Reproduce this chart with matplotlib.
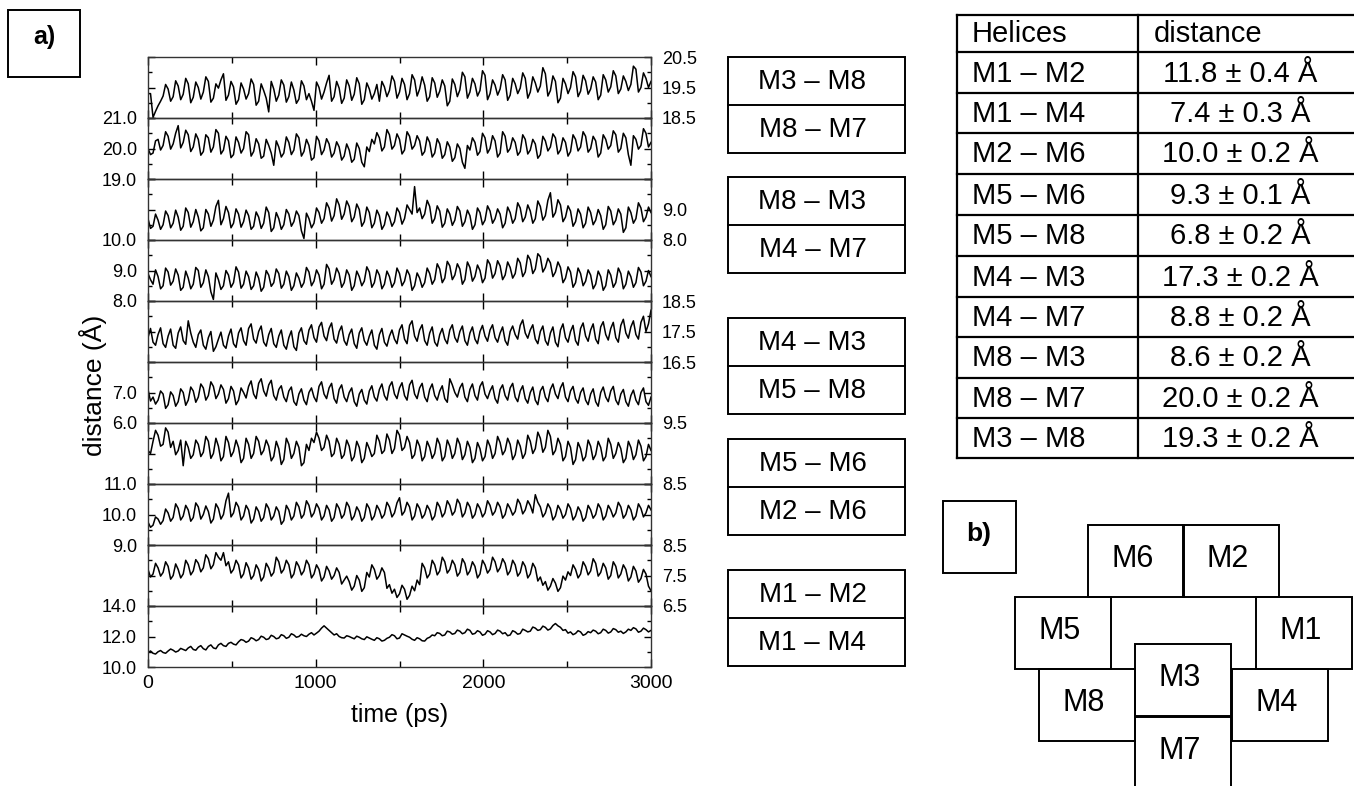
import matplotlib.pyplot as plt
import matplotlib.patches as patches
import numpy as np

# Figure size in pixels (dpi 100)
W, H = 1354, 786
DPI = 100

plt.rcParams['font.family'] = ['Liberation Sans', 'DejaVu Sans']

# ---------------- data ----------------
time_ps = np.arange(0, 3001, 15)

# panel order, top to bottom (labels as in the boxes)
panel_labels = ["M3 – M8", "M8 – M7", "M8 – M3", "M4 – M7", "M4 – M3",
                "M5 – M8", "M5 – M6", "M2 – M6", "M1 – M2", "M1 – M4"]

m3_m8 = [19.30, 19.30, 18.52, 18.72, 18.90, 19.05, 19.22, 19.60, 19.45, 19.05, 19.20, 19.72, 19.55, 19.10, 19.28, 19.80, 19.62, 19.00, 19.18, 19.68,
         19.50, 19.12, 19.35, 19.85, 19.70, 19.02, 19.15, 19.62, 19.48, 19.75, 19.95, 19.08, 19.25, 19.70, 19.52, 18.95, 19.10, 19.65, 19.45, 19.12,
         19.30, 19.78, 19.60, 18.92, 19.05, 19.62, 19.40, 19.15, 18.70, 19.70, 19.45, 19.05, 19.25, 19.75, 19.58, 19.02, 19.20, 19.68, 19.42, 18.98,
         19.12, 19.72, 19.55, 19.10, 19.30, 19.05, 18.75, 19.68, 19.50, 19.12, 19.35, 19.65, 19.90, 19.05, 19.20, 19.70, 19.48, 18.98, 19.15, 19.75,
         19.55, 19.08, 19.28, 19.82, 19.62, 18.95, 19.10, 19.65, 19.45, 19.12, 19.30, 19.60, 19.05, 19.70, 19.52, 19.20, 19.40, 19.88, 19.70, 19.15,
         19.35, 19.80, 19.60, 19.10, 19.30, 19.92, 19.75, 19.22, 19.45, 19.85, 19.58, 19.05, 19.20, 19.82, 19.65, 19.18, 19.38, 19.75, 19.55, 18.90,
         19.05, 19.78, 19.60, 19.20, 19.42, 20.00, 19.85, 19.15, 19.35, 19.80, 19.62, 19.22, 19.40, 20.05, 19.90, 19.10, 19.30, 19.75, 19.58, 19.25,
         19.45, 19.92, 19.75, 19.08, 19.25, 19.80, 19.62, 19.30, 19.48, 19.98, 19.80, 19.15, 19.35, 19.85, 19.65, 19.35, 19.55, 20.15, 19.95, 19.22,
         19.40, 19.88, 19.70, 19.00, 19.15, 19.80, 19.62, 19.30, 19.50, 20.02, 19.85, 19.20, 19.38, 19.90, 19.72, 19.28, 19.45, 19.85, 19.68, 19.10,
         19.25, 19.92, 19.75, 19.35, 19.52, 20.05, 19.88, 19.30, 19.45, 19.88, 19.70, 19.40, 19.60, 20.20, 20.10, 19.35, 19.50, 19.98, 19.80, 19.50,
         19.70]
m8_m7 = [20.00, 19.80, 19.85, 20.25, 20.30, 19.95, 20.10, 20.55, 20.40, 19.98, 20.15, 20.50, 20.75, 20.02, 20.20, 20.60, 20.45, 19.90, 20.05, 20.48,
         20.30, 19.78, 19.90, 20.45, 20.35, 19.88, 20.05, 20.62, 20.50, 19.82, 19.95, 20.40, 20.25, 19.70, 19.80, 20.38, 20.20, 19.85, 20.00, 20.55,
         20.45, 19.75, 19.90, 20.32, 20.15, 19.68, 19.75, 20.30, 20.10, 19.85, 19.45, 20.25, 20.05, 19.72, 19.85, 20.38, 20.20, 19.80, 19.95, 20.48,
         20.35, 19.75, 19.90, 20.30, 20.10, 19.62, 19.70, 20.40, 20.25, 19.80, 19.95, 20.32, 20.15, 19.72, 19.85, 20.22, 20.05, 19.62, 19.75, 20.15,
         19.95, 19.55, 19.65, 20.18, 20.00, 19.55, 19.40, 20.05, 19.90, 20.30, 20.15, 20.52, 20.35, 19.92, 20.05, 20.62, 20.45, 19.98, 20.10, 20.48,
         20.30, 19.82, 19.95, 20.55, 20.40, 19.98, 20.10, 20.42, 20.25, 19.78, 19.90, 20.38, 20.20, 19.72, 19.85, 20.32, 20.15, 19.68, 19.80, 20.22,
         20.05, 19.58, 19.70, 20.15, 20.00, 19.55, 19.35, 20.10, 19.95, 20.35, 20.20, 19.78, 19.90, 20.50, 20.35, 19.85, 20.00, 20.42, 20.25, 19.72,
         19.85, 20.55, 20.40, 19.88, 20.00, 20.35, 20.20, 19.78, 19.90, 20.45, 20.30, 19.82, 19.95, 20.30, 20.15, 19.68, 19.80, 20.40, 20.25, 19.92,
         20.05, 20.48, 20.35, 19.82, 19.95, 20.35, 20.20, 19.75, 19.90, 20.45, 20.30, 19.92, 20.05, 20.55, 20.40, 19.88, 20.00, 20.40, 20.25, 19.72,
         19.85, 20.45, 20.30, 19.98, 20.10, 20.58, 20.45, 19.88, 20.00, 20.50, 20.35, 19.80, 19.45, 20.42, 20.30, 19.98, 20.10, 20.65, 20.50, 20.05,
         20.20]
m8_m3 = [8.70, 8.38, 8.45, 8.85, 8.65, 8.35, 8.50, 8.95, 8.80, 8.40, 8.55, 8.98, 8.75, 8.32, 8.45, 9.05, 8.90, 8.42, 8.60, 9.00,
         8.75, 8.30, 8.40, 9.00, 8.85, 8.45, 8.65, 9.10, 9.30, 8.50, 8.70, 9.10, 8.90, 8.40, 8.55, 9.02, 8.85, 8.42, 8.60, 8.98,
         8.80, 8.35, 8.45, 8.92, 8.75, 8.38, 8.55, 9.08, 8.90, 8.28, 8.40, 8.90, 8.70, 8.35, 8.50, 9.00, 8.85, 8.45, 8.60, 8.95,
         8.80, 8.30, 8.05, 8.88, 8.70, 8.40, 8.55, 9.05, 8.90, 8.55, 8.70, 9.22, 9.05, 8.62, 8.80, 9.35, 9.15, 8.68, 8.85, 9.28,
         9.10, 8.60, 8.75, 9.18, 9.00, 8.45, 8.60, 9.08, 8.90, 8.40, 8.55, 8.98, 8.80, 8.35, 8.50, 8.92, 8.75, 8.45, 8.60, 9.05,
         8.90, 8.52, 8.70, 9.15, 9.00, 8.85, 9.75, 8.90, 9.05, 8.70, 8.85, 9.30, 9.10, 8.55, 8.70, 9.12, 8.95, 8.42, 8.55, 9.02,
         8.85, 8.48, 8.65, 9.10, 8.95, 8.45, 8.60, 8.98, 8.80, 8.35, 8.50, 9.05, 8.90, 8.50, 8.65, 9.12, 8.95, 8.55, 8.70, 9.02,
         8.85, 8.40, 8.55, 9.08, 8.90, 8.55, 8.70, 9.22, 9.05, 8.60, 8.75, 9.15, 8.95, 8.55, 8.70, 9.28, 9.10, 8.65, 8.80, 9.30,
         9.55, 8.75, 8.90, 9.32, 9.15, 8.60, 8.75, 9.12, 8.95, 8.45, 8.60, 9.02, 8.85, 8.40, 8.55, 9.08, 8.90, 8.50, 8.65, 9.00,
         8.80, 8.35, 8.50, 9.10, 8.95, 8.50, 8.65, 9.02, 8.85, 8.25, 8.40, 9.08, 8.90, 8.55, 8.70, 9.22, 9.05, 8.60, 8.75, 9.08,
         8.90]
m4_m7 = [8.90, 8.70, 8.55, 9.02, 8.80, 8.40, 8.50, 9.08, 8.95, 8.52, 8.65, 9.05, 8.85, 8.35, 8.45, 8.98, 8.75, 8.40, 8.55, 9.10,
         9.00, 8.45, 8.60, 9.02, 8.80, 8.30, 8.05, 8.92, 8.70, 8.38, 8.50, 9.00, 8.85, 8.45, 8.60, 9.12, 8.95, 8.42, 8.55, 8.98,
         8.80, 8.38, 8.50, 8.95, 8.75, 8.32, 8.45, 9.00, 8.85, 8.48, 8.60, 9.05, 8.90, 8.42, 8.55, 8.98, 8.80, 8.35, 8.50, 8.92,
         8.75, 8.45, 8.60, 9.10, 8.95, 8.50, 8.65, 9.02, 8.85, 8.40, 8.55, 9.20, 9.05, 8.55, 8.70, 9.08, 8.90, 8.45, 8.60, 9.02,
         8.85, 8.35, 8.50, 8.98, 8.80, 8.50, 8.65, 9.12, 8.95, 8.45, 8.60, 9.02, 8.85, 8.40, 8.55, 8.98, 8.80, 8.45, 8.60, 9.08,
         8.90, 8.50, 8.65, 9.02, 8.85, 8.35, 8.50, 8.92, 8.75, 8.45, 8.60, 9.08, 8.90, 8.55, 8.70, 9.22, 9.05, 8.60, 8.75, 9.30,
         9.15, 8.70, 8.85, 9.22, 9.05, 8.55, 8.70, 9.28, 9.10, 8.65, 8.80, 9.18, 9.00, 8.60, 8.75, 9.35, 9.20, 8.75, 8.90, 9.32,
         9.15, 8.70, 8.85, 9.28, 9.10, 8.75, 8.90, 9.40, 9.25, 8.80, 8.95, 9.50, 9.35, 8.90, 9.05, 9.55, 9.45, 8.95, 9.10, 9.40,
         9.25, 8.80, 8.95, 9.28, 9.10, 8.60, 8.75, 9.12, 8.95, 8.45, 8.60, 9.08, 8.90, 8.50, 8.65, 9.02, 8.85, 8.40, 8.55, 8.98,
         8.80, 8.35, 8.50, 9.02, 8.85, 8.45, 8.60, 9.08, 8.90, 8.40, 8.55, 8.98, 8.80, 8.45, 8.60, 9.10, 8.95, 8.50, 8.65, 9.00,
         8.80]
m4_m3 = [17.30, 17.60, 17.15, 17.05, 17.40, 17.62, 17.10, 16.98, 17.35, 17.58, 17.05, 16.95, 17.45, 17.65, 17.20, 17.08, 17.85, 17.45, 17.15, 16.98,
         17.40, 17.55, 17.05, 16.92, 17.30, 17.50, 16.85, 17.00, 17.25, 17.48, 17.05, 16.95, 17.35, 17.58, 17.10, 16.98, 17.45, 17.62, 17.20, 17.05,
         17.60, 17.75, 17.25, 17.12, 17.50, 17.68, 17.15, 17.02, 17.40, 17.60, 17.10, 16.98, 17.35, 17.55, 17.05, 16.92, 17.30, 17.52, 17.00, 16.88,
         17.45, 17.62, 17.20, 17.08, 17.55, 17.72, 17.30, 17.15, 17.65, 17.80, 17.35, 17.20, 17.60, 17.78, 17.25, 17.12, 17.50, 17.68, 17.20, 17.05,
         17.40, 17.58, 17.10, 16.95, 17.45, 17.62, 17.20, 17.05, 17.35, 17.55, 17.05, 16.92, 17.40, 17.60, 17.15, 17.02, 17.35, 17.55, 17.25, 17.10,
         17.55, 17.72, 17.25, 17.10, 17.70, 17.85, 17.35, 17.18, 17.55, 17.72, 17.20, 17.05, 17.45, 17.65, 17.15, 17.02, 17.40, 17.60, 17.25, 17.10,
         17.55, 17.72, 17.30, 17.15, 17.50, 17.68, 17.20, 17.05, 17.45, 17.65, 17.25, 17.10, 17.50, 17.70, 17.35, 17.18, 17.55, 17.72, 17.30, 17.15,
         17.45, 17.65, 17.20, 17.05, 17.50, 17.68, 17.40, 17.25, 17.70, 17.88, 17.45, 17.28, 17.55, 17.72, 17.25, 17.10, 17.50, 17.68, 17.20, 17.05,
         17.45, 17.65, 17.15, 17.00, 17.55, 17.75, 17.30, 17.15, 17.50, 17.70, 17.20, 17.05, 17.60, 17.78, 17.35, 17.18, 17.55, 17.75, 17.25, 17.10,
         17.65, 17.82, 17.40, 17.22, 17.60, 17.80, 17.30, 17.15, 17.70, 17.90, 17.45, 17.28, 17.65, 17.85, 17.40, 17.25, 17.80, 18.00, 17.50, 17.75,
         18.20]
m5_m8 = [7.10, 6.72, 6.85, 6.62, 6.75, 7.05, 6.95, 6.48, 6.60, 7.02, 6.90, 6.55, 6.70, 7.12, 7.00, 6.58, 6.75, 7.18, 7.05, 6.68,
         6.85, 7.28, 7.15, 6.75, 6.90, 7.35, 7.20, 6.80, 6.95, 7.25, 7.10, 6.65, 6.80, 7.20, 7.05, 6.60, 6.75, 7.15, 7.00, 6.82,
         7.20, 7.38, 6.95, 6.80, 7.30, 7.45, 7.05, 6.88, 7.25, 7.40, 6.90, 6.75, 7.10, 7.22, 6.85, 6.70, 7.05, 7.18, 6.70, 6.58,
         6.95, 7.12, 6.75, 6.60, 7.00, 7.15, 6.85, 6.70, 7.20, 7.35, 6.95, 6.80, 7.15, 7.30, 6.80, 6.65, 7.10, 7.25, 6.85, 6.70,
         7.00, 7.15, 6.70, 6.55, 6.95, 7.10, 6.75, 6.62, 7.05, 7.22, 6.85, 6.72, 7.10, 7.28, 6.90, 6.75, 7.20, 7.35, 6.95, 6.80,
         7.15, 7.32, 6.90, 6.75, 7.25, 7.40, 6.95, 6.80, 7.15, 7.30, 6.85, 6.70, 7.10, 7.28, 6.90, 6.75, 7.05, 7.22, 6.80, 6.68,
         7.45, 7.25, 7.00, 6.85, 7.15, 7.30, 6.85, 6.70, 7.10, 7.28, 6.90, 6.75, 7.20, 7.35, 6.95, 6.80, 7.05, 7.22, 6.80, 6.65,
         7.10, 7.25, 6.90, 6.75, 7.15, 7.30, 6.85, 6.70, 7.05, 7.22, 6.80, 6.65, 7.00, 7.18, 6.75, 6.60, 7.05, 7.20, 6.85, 6.70,
         7.10, 7.28, 6.95, 6.80, 7.15, 7.32, 6.85, 6.70, 7.05, 7.20, 6.80, 6.65, 7.00, 7.15, 6.75, 6.60, 6.95, 7.12, 6.70, 6.55,
         7.00, 7.18, 6.85, 6.70, 7.05, 7.20, 6.75, 6.60, 6.95, 7.10, 6.70, 6.55, 6.90, 7.08, 6.75, 6.60, 7.00, 7.15, 6.70, 6.58,
         6.85]
m5_m6 = [9.05, 9.00, 9.20, 9.38, 9.30, 9.12, 9.15, 9.42, 9.35, 9.10, 9.20, 8.98, 9.05, 9.22, 8.80, 9.20, 9.10, 8.92, 8.98, 9.22,
         9.15, 8.95, 9.02, 9.28, 9.20, 8.92, 9.00, 9.25, 9.12, 8.88, 8.95, 9.28, 9.18, 8.95, 9.03, 9.22, 9.10, 8.85, 8.92, 9.25,
         9.15, 8.92, 9.00, 9.28, 9.20, 8.98, 9.05, 9.22, 9.12, 8.88, 8.95, 9.20, 9.08, 8.82, 8.90, 9.25, 9.15, 8.92, 9.00, 9.20,
         9.10, 8.80, 8.85, 9.15, 9.05, 9.25, 9.18, 9.35, 9.25, 9.05, 9.10, 9.30, 9.20, 8.95, 9.00, 9.25, 9.15, 8.92, 8.98, 9.22,
         9.12, 8.88, 8.95, 9.20, 9.10, 8.85, 8.92, 9.18, 9.08, 8.95, 9.00, 9.30, 9.20, 9.00, 9.05, 9.32, 9.22, 9.00, 9.08, 9.38,
         9.30, 9.05, 9.10, 9.28, 9.18, 8.92, 8.98, 9.22, 9.12, 8.88, 8.95, 9.20, 9.10, 8.92, 9.00, 9.25, 9.15, 8.88, 8.95, 9.22,
         9.12, 8.92, 9.00, 9.25, 9.15, 8.90, 8.98, 9.20, 9.10, 8.85, 8.92, 9.18, 9.08, 8.88, 8.95, 9.22, 9.12, 8.92, 9.00, 9.28,
         9.18, 8.98, 9.05, 9.25, 9.15, 8.90, 8.98, 9.22, 9.12, 8.92, 9.00, 9.30, 9.20, 9.00, 9.08, 9.35, 9.25, 9.02, 9.10, 9.38,
         9.28, 8.98, 9.05, 9.25, 9.15, 8.88, 8.95, 9.20, 9.10, 8.82, 8.90, 9.18, 9.08, 8.88, 8.95, 9.22, 9.12, 8.90, 8.98, 9.20,
         9.10, 8.88, 8.95, 9.25, 9.15, 8.92, 9.00, 9.18, 9.08, 8.85, 8.92, 9.20, 9.10, 8.90, 8.98, 9.22, 9.12, 8.88, 8.95, 9.15,
         9.05]
m2_m6 = [9.75, 9.58, 9.65, 9.92, 9.85, 9.68, 9.80, 10.18, 10.05, 9.78, 9.90, 10.35, 10.20, 9.82, 9.95, 10.30, 10.15, 9.78, 9.90, 10.38,
         10.25, 9.85, 10.00, 10.28, 10.10, 9.72, 9.85, 10.35, 10.20, 9.85, 10.00, 10.45, 10.70, 9.92, 10.05, 10.40, 10.25, 9.82, 9.95, 10.30,
         10.15, 9.72, 9.85, 10.25, 10.10, 9.78, 9.90, 10.35, 10.20, 9.82, 9.95, 10.25, 10.10, 9.68, 9.80, 10.30, 10.15, 9.82, 9.95, 10.40,
         10.25, 9.88, 10.00, 10.45, 10.30, 9.92, 10.05, 10.35, 10.20, 9.82, 9.95, 10.30, 10.15, 9.78, 9.90, 10.35, 10.20, 9.88, 10.00, 10.40,
         10.25, 9.82, 9.95, 10.25, 10.10, 9.78, 9.90, 10.35, 10.20, 9.82, 9.95, 10.30, 10.15, 9.88, 10.00, 10.40, 10.25, 9.92, 10.05, 10.38,
         10.55, 9.98, 10.10, 10.40, 10.25, 9.82, 9.95, 10.35, 10.20, 9.88, 10.00, 10.30, 10.15, 9.82, 9.95, 10.40, 10.25, 9.92, 10.05, 10.45,
         10.30, 9.98, 10.10, 10.50, 10.35, 9.92, 10.05, 10.40, 10.25, 9.88, 10.00, 10.35, 10.20, 9.92, 10.05, 10.45, 10.30, 9.98, 10.10, 10.40,
         10.25, 9.88, 10.00, 10.35, 10.20, 9.98, 10.10, 10.50, 10.35, 10.02, 10.15, 10.45, 10.30, 10.05, 10.65, 10.40, 10.25, 9.92, 10.05, 10.35,
         10.20, 9.82, 9.95, 10.30, 10.15, 9.88, 10.00, 10.35, 10.20, 9.82, 9.95, 10.25, 10.10, 9.78, 9.90, 10.30, 10.15, 9.88, 10.00, 10.35,
         10.20, 9.82, 9.95, 10.30, 10.15, 9.92, 10.05, 10.40, 10.25, 9.88, 10.00, 10.30, 10.15, 9.82, 9.95, 10.35, 10.20, 9.92, 10.05, 10.30,
         10.15]
m1_m2 = [7.70, 7.45, 7.55, 7.90, 7.75, 7.48, 7.60, 7.95, 7.80, 7.38, 7.50, 7.88, 7.70, 7.42, 7.55, 8.00, 7.85, 7.52, 7.65, 8.02,
         7.90, 7.62, 7.75, 8.18, 8.05, 7.72, 7.85, 8.25, 8.10, 8.00, 8.25, 7.82, 7.95, 7.58, 7.70, 8.00, 7.85, 7.42, 7.55, 7.92,
         7.75, 7.38, 7.50, 7.85, 7.70, 7.32, 7.45, 7.90, 7.75, 7.48, 7.60, 8.10, 7.95, 7.58, 7.70, 8.00, 7.85, 7.42, 7.55, 7.95,
         7.80, 7.52, 7.65, 8.00, 7.85, 7.42, 7.55, 7.85, 7.70, 7.32, 7.45, 7.80, 7.65, 7.38, 7.50, 7.75, 7.60, 7.22, 7.35, 7.48,
         7.30, 7.02, 7.15, 7.50, 7.35, 6.98, 7.10, 7.60, 7.45, 7.85, 7.70, 7.38, 7.50, 7.75, 7.60, 7.08, 7.20, 6.92, 7.05, 6.78,
         6.90, 7.18, 7.05, 6.72, 6.85, 7.15, 7.00, 7.35, 7.20, 7.90, 7.75, 7.42, 7.55, 8.00, 7.85, 7.52, 7.65, 8.10, 7.95, 7.58,
         7.70, 8.00, 7.85, 7.48, 7.60, 8.05, 7.90, 7.52, 7.65, 7.95, 7.80, 7.42, 7.55, 8.00, 7.85, 7.58, 7.70, 8.10, 7.95, 7.62,
         7.75, 8.05, 7.90, 7.52, 7.65, 8.00, 7.85, 7.48, 7.60, 7.95, 7.80, 7.42, 7.55, 7.90, 7.75, 7.32, 7.45, 7.18, 7.30, 7.02,
         7.15, 7.40, 7.25, 6.98, 7.10, 7.48, 7.35, 7.62, 7.50, 7.85, 7.70, 7.42, 7.55, 7.95, 7.80, 7.52, 7.65, 8.05, 7.90, 7.48,
         7.60, 7.90, 7.75, 7.38, 7.50, 7.95, 7.80, 7.42, 7.55, 7.85, 7.70, 7.32, 7.45, 7.80, 7.65, 7.28, 7.40, 7.70, 7.55, 7.15,
         7.00]
m1_m4 = [10.95, 11.05, 10.90, 10.85, 11.00, 11.08, 10.95, 10.90, 11.05, 11.18, 11.10, 10.98, 11.05, 11.22, 11.15, 11.08, 11.25, 11.35, 11.15, 11.10,
         11.30, 11.40, 11.20, 11.12, 11.35, 11.45, 11.25, 11.20, 11.45, 11.55, 11.40, 11.35, 11.55, 11.62, 11.50, 11.45, 11.65, 11.80, 11.75, 11.62,
         11.70, 11.92, 11.85, 11.72, 11.80, 12.02, 11.95, 11.80, 11.85, 12.08, 12.00, 11.85, 11.90, 12.12, 12.05, 11.88, 11.95, 12.18, 12.10, 11.95,
         12.00, 12.15, 12.05, 12.00, 12.15, 12.25, 12.10, 12.22, 12.35, 12.55, 12.70, 12.55, 12.40, 12.25, 12.10, 12.18, 12.00, 11.92, 11.90, 12.05,
         12.00, 11.92, 11.85, 12.02, 11.95, 11.85, 11.80, 11.98, 11.90, 11.82, 11.75, 11.92, 11.85, 11.70, 11.75, 11.88, 11.95, 12.12, 12.05, 11.85,
         11.90, 12.18, 12.10, 12.02, 11.95, 11.82, 11.75, 11.92, 11.85, 11.72, 11.70, 11.88, 11.95, 12.10, 12.05, 12.25, 12.20, 12.05, 12.10, 12.35,
         12.30, 12.15, 12.20, 12.42, 12.35, 12.18, 12.25, 12.48, 12.40, 12.15, 12.20, 12.38, 12.30, 12.08, 12.15, 12.38, 12.30, 12.12, 12.20, 12.42,
         12.35, 12.18, 12.25, 12.05, 12.10, 12.38, 12.30, 12.15, 12.20, 12.48, 12.40, 12.30, 12.35, 12.62, 12.55, 12.40, 12.45, 12.68, 12.60, 12.42,
         12.50, 12.72, 12.85, 12.70, 12.60, 12.40, 12.45, 12.22, 12.30, 12.12, 12.20, 12.38, 12.30, 12.08, 12.15, 12.32, 12.25, 12.42, 12.35, 12.18,
         12.25, 12.48, 12.40, 12.22, 12.30, 12.52, 12.45, 12.28, 12.35, 12.20, 12.30, 12.48, 12.40, 12.58, 12.50, 12.28, 12.35, 12.55, 12.45, 12.30,
         12.40]

traces = [m3_m8, m8_m7, m8_m3, m4_m7, m4_m3, m5_m8, m5_m6, m2_m6, m1_m2, m1_m4]

# y range of every panel and the tick labels that are printed
y_ranges = [(18.5, 20.5), (19.0, 21.0), (8.0, 10.0), (8.0, 10.0), (16.5, 18.5),
            (6.0, 8.0), (8.5, 9.5), (9.0, 11.0), (6.5, 8.5), (10.0, 14.0)]
label_side = ['right', 'left', 'right', 'left', 'right',
              'left', 'right', 'left', 'right', 'left']
shown_ticks = [[20.5, 19.5, 18.5], [21.0, 20.0, 19.0], [9.0, 8.0], [10.0, 9.0, 8.0],
               [18.5, 17.5, 16.5], [7.0, 6.0], [9.5, 8.5], [11.0, 10.0, 9.0],
               [8.5, 7.5, 6.5], [14.0, 12.0, 10.0]]

# table
helices = ["M1 – M2", "M1 – M4", "M2 – M6", "M5 – M6", "M5 – M8",
           "M4 – M3", "M4 – M7", "M8 – M3", "M8 – M7", "M3 – M8"]
mean_dist = [11.8, 7.4, 10.0, 9.3, 6.8, 17.3, 8.8, 8.6, 20.0, 19.3]
err_dist = [0.4, 0.3, 0.2, 0.1, 0.2, 0.2, 0.2, 0.2, 0.2, 0.2]

# helix arrangement sketch (b)
sketch_names = ["M6", "M2", "M5", "M1", "M3", "M8", "M4", "M7"]


def px_rect(x0, y0, x1, y1):
    return [x0 / W, 1 - y1 / H, (x1 - x0) / W, (y1 - y0) / H]


fig = plt.figure(figsize=(W / DPI, H / DPI), dpi=DPI)

# overlay in pixel coordinates for boxes, table and sketch
bg = fig.add_axes([0, 0, 1, 1])
bg.set_xlim(0, W)
bg.set_ylim(H, 0)
bg.axis('off')


def box(x0, y0, x1, y1, lw=1.4):
    bg.add_patch(patches.Rectangle((x0, y0), x1 - x0, y1 - y0, fill=False,
                                   edgecolor='black', linewidth=lw))


# a) and b) labels
box(8, 10, 80, 77)
bg.text(44, 37, "a)", fontsize=18, fontweight='bold', ha='center', va='center')
box(943, 501, 1016, 573)
bg.text(979, 534, "b)", fontsize=19, fontweight='bold', ha='center', va='center')

# ---------------- stacked traces ----------------
PL, PR, PT, PH = 148, 651, 57, 61
for i, (ys, (lo, hi)) in enumerate(zip(traces, y_ranges)):
    top = PT + PH * i
    ax = fig.add_axes(px_rect(PL, top, PR, top + PH))
    ax.plot(time_ps, ys, color='black', lw=1.1)
    ax.set_xlim(0, 3000)
    ax.set_ylim(lo, hi)
    ax.set_xticks([0, 1000, 2000, 3000])
    ax.set_xticks([500, 1500, 2500], minor=True)
    ax.tick_params(axis='x', which='both', direction='in', top=True, bottom=True,
                   labelbottom=(i == len(traces) - 1), labelsize=14, pad=6)
    ax.tick_params(axis='x', which='major', length=6, width=1)
    ax.tick_params(axis='x', which='minor', length=4, width=1)
    step = (hi - lo) / 4
    majors = [lo, lo + 2 * step, hi]
    ax.set_yticks(majors)
    ax.set_yticks([lo + step, lo + 3 * step], minor=True)
    ax.set_yticklabels([f"{v:.1f}" if v in shown_ticks[i] else "" for v in majors])
    ax.tick_params(axis='y', which='both', direction='in', left=True, right=True,
                   labelleft=(label_side[i] == 'left'),
                   labelright=(label_side[i] == 'right'), labelsize=13, pad=8)
    ax.tick_params(axis='y', which='major', length=5, width=1)
    ax.tick_params(axis='y', which='minor', length=3, width=1)
    for s in ax.spines.values():
        s.set_color('#333333')
        s.set_linewidth(1.0)
    ax.patch.set_alpha(0)
    if i == len(traces) - 1:
        ax.set_xlabel("time (ps)", fontsize=18, labelpad=8)

fig.text(93 / W, 1 - 385 / H, "distance (Å)", rotation=90, fontsize=19,
         ha='center', va='center')

# ---------------- pair boxes next to the traces ----------------
BX0, BX1, ROW = 728, 905, 48
box_tops = [57, 177, 318, 439, 570]
for g, top in enumerate(box_tops):
    box(BX0, top, BX1, top + 2 * ROW)
    bg.plot([BX0, BX1], [top + ROW, top + ROW], color='black', lw=1.4)
    for r in range(2):
        bg.text((BX0 + BX1) / 2 - 4, top + ROW * r + ROW / 2 + 1, panel_labels[2 * g + r],
                fontsize=20, ha='center', va='center')

# ---------------- table ----------------
TX0, TXM, TX1 = 957, 1138, 1354
row_lines = [15, 52, 93, 133, 174, 215, 256, 297, 337, 378, 418, 458]
for y in row_lines:
    bg.plot([TX0, TX1], [y, y], color='black', lw=1.6)
for x in (TX0, TXM):
    bg.plot([x, x], [row_lines[0], row_lines[-1]], color='black', lw=1.6)
bg.text(972, (row_lines[0] + row_lines[1]) / 2 + 1, "Helices", fontsize=21,
        ha='left', va='center')
bg.text(1154, (row_lines[0] + row_lines[1]) / 2 + 1, "distance", fontsize=21,
        ha='left', va='center')
for k, (name, m, e) in enumerate(zip(helices, mean_dist, err_dist)):
    yc = (row_lines[k + 1] + row_lines[k + 2]) / 2 + 1
    bg.text(972, yc, name, fontsize=21, ha='left', va='center')
    bg.text(1240, yc, f"{m:.1f} ± {e:.1f} Å", fontsize=21, ha='center', va='center')

# ---------------- helix sketch ----------------
sketch_cells = {"M6": (1088, 525), "M2": (1183, 525), "M5": (1015, 597),
                "M1": (1256, 597), "M3": (1135, 644), "M8": (1039, 669),
                "M4": (1232, 669), "M7": (1135, 717)}
CW, CH = 96, 72
for name in sketch_names:
    x0, y0 = sketch_cells[name]
    h = CH if name != "M7" else 80
    box(x0, y0, x0 + CW, y0 + h)
    bg.text(x0 + CW / 2 - 3, y0 + 34, name, fontsize=22, ha='center', va='center')

fig.savefig("out.png", dpi=DPI)
